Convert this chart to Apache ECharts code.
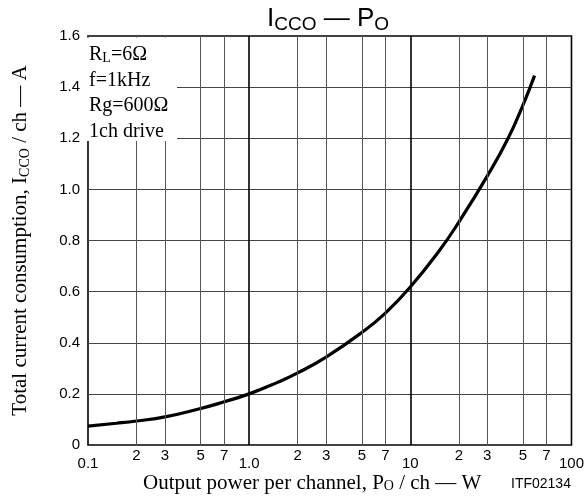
<!DOCTYPE html>
<html><head><meta charset="utf-8">
<script src="https://cdn.jsdelivr.net/npm/echarts@6/dist/echarts.min.js"></script>
<style>html,body{margin:0;padding:0;background:#fff}#c{width:587px;height:500px}</style>
</head><body><div id="c"></div>
<script>
// Output power per channel (W) and total current consumption (A)
const powerW = [0.1, 0.15, 0.2, 0.3, 0.5, 0.7, 1.0, 1.5, 2, 3, 5, 7, 10, 15, 20, 30, 40, 50, 59];
const iccA   = [0.074, 0.085, 0.094, 0.110, 0.143, 0.169, 0.200, 0.245, 0.282, 0.344, 0.440, 0.516, 0.618, 0.757, 0.872, 1.052, 1.194, 1.330, 1.445];
// minor vertical grid lines and their labels
const minorTicks  = [0.2, 0.3, 0.5, 0.7, 2, 3, 5, 7, 20, 30, 50, 70];
const minorLabels = ['2', '3', '5', '7', '2', '3', '5', '7', '2', '3', '5', '7'];
const majorTicks  = [1, 10];
const decadeLabels = ['0.1', '1.0', '10', '100'];
const annotationLines = ['R{s|L}=6Ω', 'f=1kHz', 'Rg=600Ω', '1ch drive'];

const SANS = '"Liberation Sans", Arial, sans-serif';
const SERIF = '"Liberation Serif", "Times New Roman", serif';

const chart = echarts.init(document.getElementById('c'), null, {renderer: 'canvas'});

const markData = minorTicks.map((v, i) => ({
  xAxis: v,
  lineStyle: {color: '#555', width: 1, type: 'solid'},
  label: {show: true, position: 'start', formatter: minorLabels[i], distance: 3,
          color: '#000', fontFamily: SANS, fontSize: 15}
})).concat(majorTicks.map(v => ({
  xAxis: v,
  lineStyle: {color: '#000', width: 1.6, type: 'solid'},
  label: {show: false}
})));

const option = {
  animation: false,
  backgroundColor: '#fff',
  title: {
    text: 'I{s|CCO} — P{s|O}',
    left: 262, top: -1,
    textStyle: {
      fontFamily: SANS, fontSize: 26, fontWeight: 'normal', color: '#000', lineHeight: 30,
      rich: {s: {fontFamily: SANS, fontSize: 19, color: '#000', verticalAlign: 'bottom', lineHeight: 19}}
    }
  },
  grid: {left: 82, right: 14, top: 36, bottom: 55, show: true, borderColor: '#000', borderWidth: 1.6, containLabel: false},
  xAxis: {
    type: 'log', logBase: 10, min: 0.1, max: 100,
    axisLine: {show: false},
    axisTick: {show: false},
    splitLine: {show: false},
    minorTick: {show: false},
    axisLabel: {
      margin: 11, color: '#000', fontFamily: SANS, fontSize: 15,
      formatter: v => {
        const k = Math.round(Math.log10(v)) + 1;
        return decadeLabels[k] || '';
      }
    }
  },
  yAxis: {
    type: 'value', min: 0, max: 1.6, interval: 0.2,
    name: 'Total current consumption, I{s|CCO} / ch — A',
    nameLocation: 'middle', nameGap: 56, nameRotate: 90,
    nameTextStyle: {
      fontFamily: SERIF, fontSize: 21, color: '#000', lineHeight: 24,
      rich: {s: {fontFamily: SERIF, fontSize: 14, color: '#000', verticalAlign: 'bottom', lineHeight: 13}}
    },
    axisLine: {show: false},
    axisTick: {show: false},
    splitLine: {show: true, lineStyle: {color: '#444', width: 1}},
    axisLabel: {
      margin: 8, color: '#000', fontFamily: SANS, fontSize: 15,
      formatter: v => v === 0 ? '0' : v.toFixed(1)
    }
  },
  series: [
    {
      type: 'line',
      data: powerW.map((p, i) => [p, iccA[i]]),
      symbol: 'none',
      lineStyle: {opacity: 0},
      silent: true,
      z: 1,
      markLine: {silent: true, symbol: ['none', 'none'], animation: false, data: markData}
    },
    {
      type: 'line',
      data: powerW.map((p, i) => [p, iccA[i]]),
      smooth: 0.5,
      symbol: 'none',
      lineStyle: {color: '#000', width: 3.2},
      z: 3
    }
  ],
  graphic: [
    {type: 'rect', z: 100, shape: {x: 84, y: 37.5, width: 93, height: 103.5}, style: {fill: '#fff'}}
  ].concat(annotationLines.map((t, i) => ({
      type: 'text', z: 102, x: 89, y: 55 + i * 25.5,
      style: {
        text: t, fontFamily: SERIF, fontSize: 20, fill: '#000', verticalAlign: 'middle',
        rich: {s: {fontFamily: SERIF, fontSize: 14, fill: '#000', verticalAlign: 'bottom', lineHeight: 12, padding: [9, 0, 0, 0]}}
      }
  }))).concat([
    {type: 'text', z: 101, x: 143, y: 483,
      style: {
        text: 'Output power per channel, P{s|O} / ch — W', fontFamily: SERIF, fontSize: 21, fill: '#000',
        verticalAlign: 'middle',
        rich: {s: {fontFamily: SERIF, fontSize: 14, fill: '#000', verticalAlign: 'bottom', lineHeight: 12, padding: [9, 0, 0, 0]}}
      }
    },
    {type: 'text', z: 101, x: 511, y: 484,
      style: {text: 'ITF02134', fontFamily: SANS, fontSize: 14, fill: '#000', verticalAlign: 'middle'}}
  ])
};
chart.setOption(option);
</script>
</body></html>
